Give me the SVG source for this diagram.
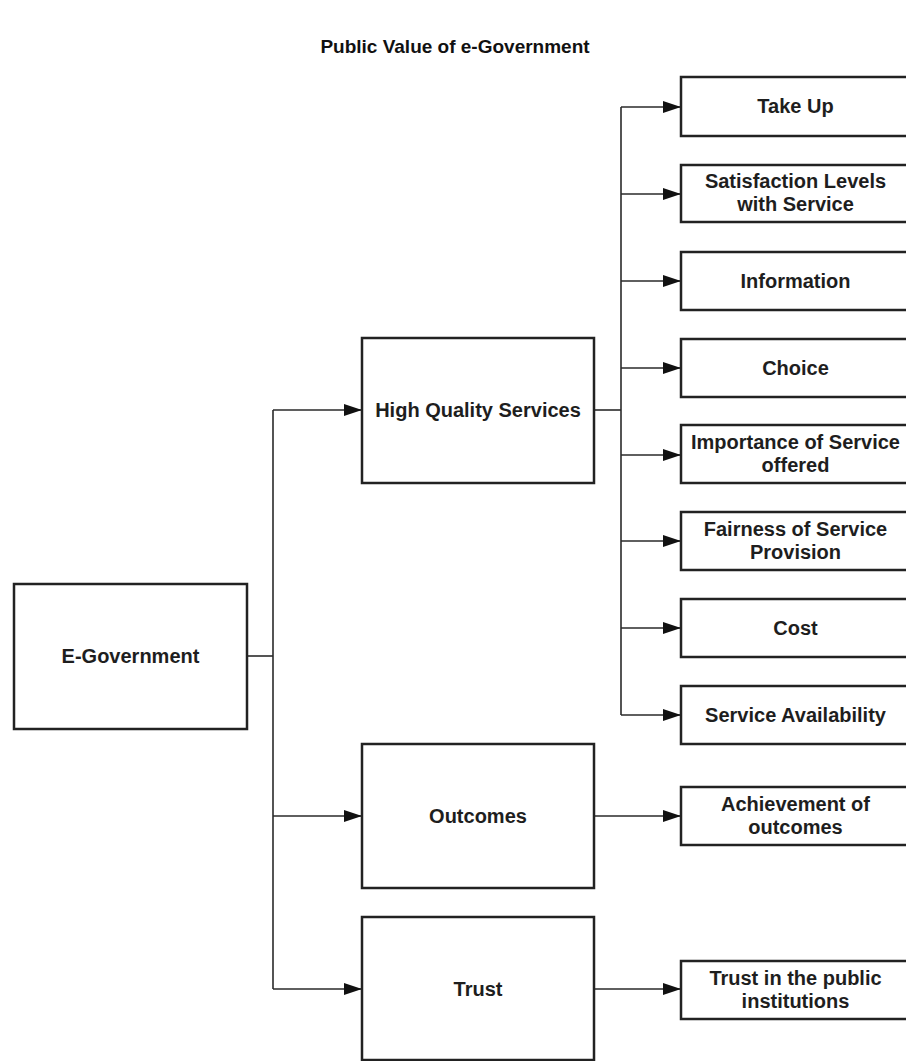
<svg xmlns="http://www.w3.org/2000/svg" width="906" height="1061" viewBox="0 0 906 1061">
  <defs>
    <style>
      .box { fill: #ffffff; stroke: #222222; stroke-width: 2.5; }
      .lbl { font-family: "Liberation Sans", Arial, sans-serif; font-weight: bold; font-size: 20px; fill: #1e1e1e; text-anchor: middle; }
      .title { font-family: "Liberation Sans", Arial, sans-serif; font-weight: bold; font-size: 19px; fill: #111111; text-anchor: middle; }
      .wire { fill: none; stroke: #2a2a2a; stroke-width: 1.6; }
      .arrow { fill: none; stroke: #2a2a2a; stroke-width: 1.6; marker-end: url(#head); }
    </style>
    <marker id="head" viewBox="0 0 18 12" refX="18" refY="6" markerWidth="18" markerHeight="12" markerUnits="userSpaceOnUse" orient="auto">
      <path d="M0,0 L18,6 L0,12 Z" fill="#111111"/>
    </marker>
  </defs>

  <rect width="906" height="1061" fill="#ffffff"/>

  <text class="title" x="455" y="53">Public Value of e-Government</text>

  <!-- connectors -->
  <g id="connectors">
    <path class="wire" d="M247,656 H273"/>
    <path class="wire" d="M273,410 V989"/>
    <path class="arrow" d="M273,410 H362"/>
    <path class="arrow" d="M273,816 H362"/>
    <path class="arrow" d="M273,989 H362"/>
    <path class="wire" d="M594,410 H621"/>
    <path class="wire" d="M621,107 V715"/>
    <path class="arrow" d="M621,107 H681"/>
    <path class="arrow" d="M621,194 H681"/>
    <path class="arrow" d="M621,281 H681"/>
    <path class="arrow" d="M621,368 H681"/>
    <path class="arrow" d="M621,455 H681"/>
    <path class="arrow" d="M621,541 H681"/>
    <path class="arrow" d="M621,628 H681"/>
    <path class="arrow" d="M621,715 H681"/>
    <path class="arrow" d="M594,816 H681"/>
    <path class="arrow" d="M594,989 H681"/>
  </g>

  <!-- first level -->
  <g id="e-government">
    <rect class="box" x="14" y="584" width="233" height="145"/>
    <text class="lbl" x="130.5" y="663">E-Government</text>
  </g>

  <!-- second level -->
  <g id="high-quality-services">
    <rect class="box" x="362" y="338" width="232" height="145"/>
    <text class="lbl" x="478" y="417">High Quality Services</text>
  </g>
  <g id="outcomes">
    <rect class="box" x="362" y="744" width="232" height="144"/>
    <text class="lbl" x="478" y="823">Outcomes</text>
  </g>
  <g id="trust">
    <rect class="box" x="362" y="917" width="232" height="143"/>
    <text class="lbl" x="478" y="996">Trust</text>
  </g>

  <!-- third level -->
  <g id="take-up">
    <rect class="box" x="681" y="77" width="229" height="59"/>
    <text class="lbl" x="795.5" y="113">Take Up</text>
  </g>
  <g id="satisfaction">
    <rect class="box" x="681" y="165" width="229" height="57"/>
    <text class="lbl" x="795.5" y="188">Satisfaction Levels</text>
    <text class="lbl" x="795.5" y="211">with Service</text>
  </g>
  <g id="information">
    <rect class="box" x="681" y="252" width="229" height="58"/>
    <text class="lbl" x="795.5" y="288">Information</text>
  </g>
  <g id="choice">
    <rect class="box" x="681" y="339" width="229" height="58"/>
    <text class="lbl" x="795.5" y="375">Choice</text>
  </g>
  <g id="importance">
    <rect class="box" x="681" y="425" width="229" height="58"/>
    <text class="lbl" x="795.5" y="448.5">Importance of Service</text>
    <text class="lbl" x="795.5" y="471.5">offered</text>
  </g>
  <g id="fairness">
    <rect class="box" x="681" y="512" width="229" height="58"/>
    <text class="lbl" x="795.5" y="535.5">Fairness of Service</text>
    <text class="lbl" x="795.5" y="558.5">Provision</text>
  </g>
  <g id="cost">
    <rect class="box" x="681" y="599" width="229" height="58"/>
    <text class="lbl" x="795.5" y="635">Cost</text>
  </g>
  <g id="service-availability">
    <rect class="box" x="681" y="686" width="229" height="58"/>
    <text class="lbl" x="795.5" y="722">Service Availability</text>
  </g>
  <g id="achievement">
    <rect class="box" x="681" y="787" width="229" height="58"/>
    <text class="lbl" x="795.5" y="810.5">Achievement of</text>
    <text class="lbl" x="795.5" y="833.5">outcomes</text>
  </g>
  <g id="trust-institutions">
    <rect class="box" x="681" y="961" width="229" height="58"/>
    <text class="lbl" x="795.5" y="984.5">Trust in the public</text>
    <text class="lbl" x="795.5" y="1007.5">institutions</text>
  </g>
</svg>
